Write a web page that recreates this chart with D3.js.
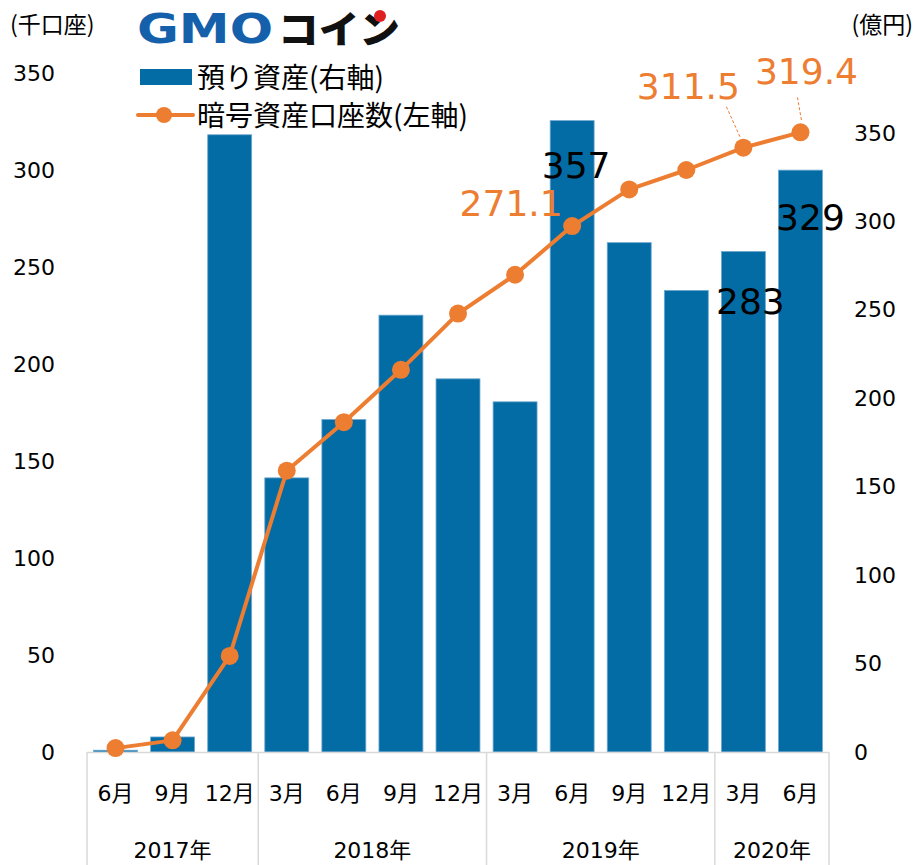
<!DOCTYPE html>
<html>
<head>
<meta charset="utf-8">
<script src="https://cdn.jsdelivr.net/npm/d3@7"></script>
<style>
  body { margin: 0; background: #fff; }
  svg { display: block; }
  text { font-family: "DejaVu Sans", "Noto Sans CJK JP", sans-serif; }
  .jp { font-family: "Noto Sans CJK JP", sans-serif; }
</style>
</head>
<body>
<svg id="chart" width="919" height="865"></svg>
<script>
// data
const months = ['6月', '9月', '12月', '3月', '6月', '9月', '12月', '3月', '6月', '9月', '12月', '3月', '6月'];
const years = ['2017年', '2018年', '2019年', '2020年'];
const yearSpans = [3, 4, 4, 2];
const deposits = [1, 8.5, 349, 155, 188, 247, 211, 198, 357, 288, 261, 283, 329];   // 億円 (right axis)
const accounts = [2, 6, 49.5, 145, 170, 197, 226, 246, 271.1, 290, 300, 311.5, 319.4]; // 千口座 (left axis)
const leftTicks = [0, 50, 100, 150, 200, 250, 300, 350];
const rightTicks = [0, 50, 100, 150, 200, 250, 300, 350];
const depositLabels = [8, 11, 12];
const accountLabels = [8, 11, 12];

const blue = '#046ca5', orange = '#ed7d31';

let svg = d3.select('#chart');
svg.append('rect').attr('width', 919).attr('height', 865).attr('fill', '#fff');

let x = d3.scaleBand()
    .domain(d3.range(months.length))
    .range([87, 829])
    .paddingInner(0.23)
    .paddingOuter(0.115);

let yL = d3.scaleLinear().domain([0, 350]).range([752, 73]);
let yR = d3.scaleLinear().domain([0, 350]).range([752, 133]);
let cx = i => x(i) + x.bandwidth() / 2;

// left axis
let leftAxis = svg.append('g')
    .attr('transform', 'translate(55,0)')
    .call(d3.axisLeft(yL).tickValues(leftTicks).tickSize(0).tickPadding(0));
leftAxis.select('.domain').remove();
leftAxis.selectAll('.tick text')
    .style('font-family', '"DejaVu Sans", sans-serif')
    .style('font-size', '22px')
    .attr('fill', '#000');

// right axis
let rightAxis = svg.append('g')
    .attr('transform', 'translate(854,0)')
    .call(d3.axisRight(yR).tickValues(rightTicks).tickSize(0).tickPadding(0));
rightAxis.select('.domain').remove();
rightAxis.selectAll('.tick text')
    .style('font-family', '"DejaVu Sans", sans-serif')
    .style('font-size', '22px')
    .attr('fill', '#000');

// axis unit labels
svg.append('text').attr('class', 'jp').attr('x', 10).attr('y', 33)
    .style('font-size', '23px').text('(千口座)');
svg.append('text').attr('class', 'jp').attr('x', 913).attr('y', 33)
    .attr('text-anchor', 'end').style('font-size', '23px').text('(億円)');

// bars
svg.append('g').selectAll('rect')
    .data(deposits)
    .join('rect')
    .attr('x', (d, i) => x(i))
    .attr('width', x.bandwidth())
    .attr('y', d => yR(d))
    .attr('height', d => yR(0) - yR(d))
    .attr('fill', blue)
    .attr('stroke', '#6fa8cf')
    .attr('stroke-width', 0.8);

// category axis
let cat = svg.append('g');
cat.append('line')
    .attr('x1', x.range()[0]).attr('x2', x.range()[1])
    .attr('y1', yR(0) + 0.5).attr('y2', yR(0) + 0.5)
    .attr('stroke', '#d9d9d9').attr('stroke-width', 1.5);

let bounds = [0];
yearSpans.forEach(n => bounds.push(bounds[bounds.length - 1] + n));
let edge = k => x.range()[0] + k * x.step();

cat.selectAll('.sep')
    .data(bounds)
    .join('line')
    .attr('class', 'sep')
    .attr('x1', d => edge(d)).attr('x2', d => edge(d))
    .attr('y1', yR(0)).attr('y2', 865)
    .attr('stroke', '#d9d9d9').attr('stroke-width', 1.5);

cat.selectAll('.month')
    .data(months)
    .join('text')
    .attr('class', 'month')
    .attr('x', (d, i) => cx(i))
    .attr('y', 801)
    .attr('text-anchor', 'middle')
    .style('font-size', '22px')
    .text(d => d);

cat.selectAll('.year')
    .data(years)
    .join('text')
    .attr('class', 'year')
    .attr('x', (d, i) => (edge(bounds[i]) + edge(bounds[i + 1])) / 2)
    .attr('y', 858)
    .attr('text-anchor', 'middle')
    .style('font-size', '22px')
    .text(d => d);

// line
let line = d3.line()
    .x((d, i) => cx(i))
    .y(d => yL(d));

svg.append('path')
    .datum(accounts)
    .attr('d', line)
    .attr('fill', 'none')
    .attr('stroke', orange)
    .attr('stroke-width', 4)
    .attr('stroke-linejoin', 'round');

svg.append('g').selectAll('circle')
    .data(accounts)
    .join('circle')
    .attr('cx', (d, i) => cx(i))
    .attr('cy', d => yL(d))
    .attr('r', 9)
    .attr('fill', orange);

// value labels
const depOffsets = { 8: [4, 57], 11: [7, 63], 12: [10, 60] };
svg.append('g').selectAll('text')
    .data(depositLabels)
    .join('text')
    .attr('x', i => cx(i) + depOffsets[i][0])
    .attr('y', i => yR(deposits[i]) + depOffsets[i][1])
    .attr('text-anchor', 'middle')
    .style('font-size', '36px')
    .attr('fill', '#000')
    .text(i => d3.format('d')(deposits[i]));

const accOffsets = { 8: [-61, -10], 11: [-55, -49], 12: [6, -48] };
const leaders = { 11: [-17, -41, -3, -10], 12: [-3, -35, 1, -12] };
svg.append('g').selectAll('line')
    .data(Object.keys(leaders).map(Number))
    .join('line')
    .attr('x1', i => cx(i) + leaders[i][0])
    .attr('y1', i => yL(accounts[i]) + leaders[i][1])
    .attr('x2', i => cx(i) + leaders[i][2])
    .attr('y2', i => yL(accounts[i]) + leaders[i][3])
    .attr('stroke', orange)
    .attr('stroke-width', 1)
    .attr('stroke-dasharray', '3,2');

svg.append('g').selectAll('text')
    .data(accountLabels)
    .join('text')
    .attr('x', i => cx(i) + accOffsets[i][0])
    .attr('y', i => yL(accounts[i]) + accOffsets[i][1])
    .attr('text-anchor', 'middle')
    .style('font-size', '36px')
    .attr('fill', orange)
    .text(i => d3.format('.1f')(accounts[i]));

// legend
let legend = svg.append('g');
legend.append('rect')
    .attr('x', 140).attr('y', 69).attr('width', 52).attr('height', 16)
    .attr('fill', blue);
legend.append('text').attr('class', 'jp')
    .attr('x', 197).attr('y', 88)
    .style('font-size', '28px')
    .text('預り資産(右軸)');
legend.append('line')
    .attr('x1', 138).attr('x2', 193).attr('y1', 115).attr('y2', 115)
    .attr('stroke', orange).attr('stroke-width', 4).attr('stroke-linecap', 'round');
legend.append('circle')
    .attr('cx', 164).attr('cy', 115).attr('r', 8).attr('fill', orange);
legend.append('text').attr('class', 'jp')
    .attr('x', 197).attr('y', 126)
    .style('font-size', '28px')
    .text('暗号資産口座数(左軸)');

// logo
let logo = svg.append('g');
logo.append('text')
    .attr('x', 137).attr('y', 43)
    .attr('textLength', 136).attr('lengthAdjust', 'spacingAndGlyphs')
    .style('font-family', '"DejaVu Sans", sans-serif')
    .style('font-weight', 'bold')
    .style('font-size', '41px')
    .attr('fill', '#1560ab')
    .text('GMO');
logo.append('text')
    .attr('x', 278).attr('y', 43)
    .attr('textLength', 122).attr('lengthAdjust', 'spacingAndGlyphs')
    .style('font-family', '"Noto Sans CJK JP", sans-serif')
    .style('font-weight', 900)
    .style('font-size', '38px')
    .attr('fill', '#111')
    .text('コイン');
logo.append('circle')
    .attr('cx', 380).attr('cy', 16).attr('r', 6).attr('fill', '#e02020');
</script>
</body>
</html>
